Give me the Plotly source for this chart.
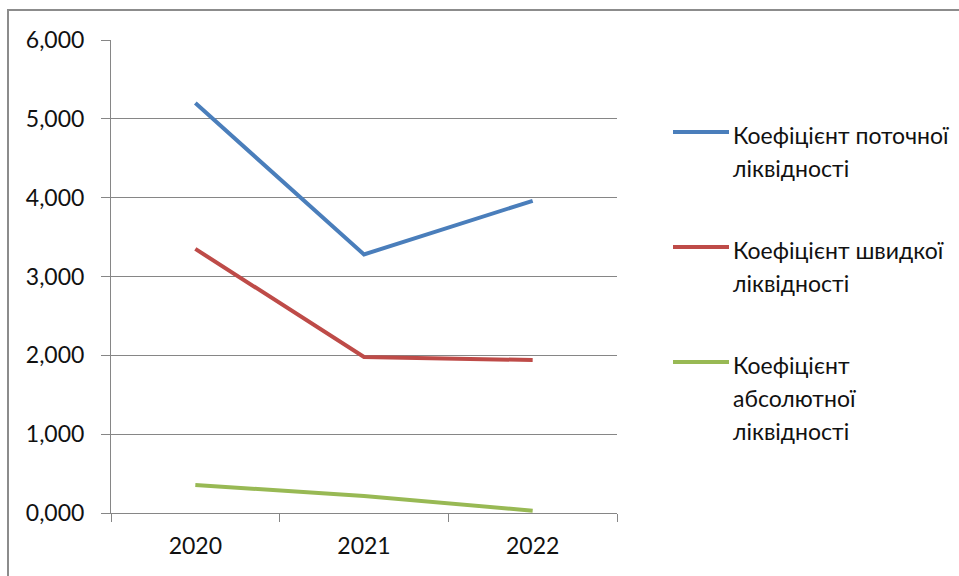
import plotly.graph_objects as go

years = ["2020", "2021", "2022"]
current_ratio = [5.20, 3.28, 3.96]
quick_ratio = [3.35, 1.98, 1.94]
absolute_ratio = [0.355, 0.215, 0.03]

series_names = [
    ["Коефіцієнт поточної", "ліквідності"],
    ["Коефіцієнт швидкої", "ліквідності"],
    ["Коефіцієнт", "абсолютної", "ліквідності"],
]
series_values = [current_ratio, quick_ratio, absolute_ratio]
series_colors = ["#4A7EBB", "#BE4B48", "#98B954"]

W, H = 959, 576
L, R, T, B = 111, 617, 40, 513   # plot area in pixels


def px_x(px):
    return (px - L) / (R - L)


def px_y(py):
    return (B - py) / (B - T)


FONT = "Lato, Carlito, Calibri, sans-serif"
FS = 23

fig = go.Figure()
for name, vals, col in zip(series_names, series_values, series_colors):
    fig.add_trace(go.Scatter(
        x=years, y=vals, mode="lines", name=" ".join(name),
        line=dict(color=col, width=4), showlegend=False,
        hoverinfo="x+y",
    ))

shapes = []
annotations = []

# outer chart border (only top and left edges fall inside the page)
shapes.append(dict(type="rect", xref="paper", yref="paper",
                   x0=px_x(8), x1=px_x(8) + 3, y0=-2, y1=px_y(10),
                   line=dict(color="#8C8C8C", width=2), fillcolor="rgba(0,0,0,0)"))

# legend drawn beside the plot
entry_top = [132, 247, 362]
line_gap = 33
for names, col, y0 in zip(series_names, series_colors, entry_top):
    shapes.append(dict(type="line", xref="paper", yref="paper",
                       x0=px_x(673), x1=px_x(729), y0=px_y(y0), y1=px_y(y0),
                       line=dict(color=col, width=4)))
    for i, part in enumerate(names):
        annotations.append(dict(
            xref="paper", yref="paper", x=px_x(731), y=px_y(y0 + 3 + i * line_gap),
            text=part, showarrow=False, xanchor="left", yanchor="middle",
            font=dict(family=FONT, size=FS, color="#111111"),
        ))

fig.update_layout(
    width=W, height=H,
    margin=dict(l=L, r=W - R, t=T, b=H - B, pad=0),
    paper_bgcolor="white", plot_bgcolor="white",
    separators=", ",
    font=dict(family=FONT, size=FS, color="#111111"),
    shapes=shapes,
    annotations=annotations,
    xaxis=dict(
        type="category", range=[-0.5, 2.5],
        tickson="boundaries", ticks="outside", ticklen=8,
        tickcolor="#868686", showline=True, linecolor="#868686", linewidth=1,
        showgrid=False, ticklabelstandoff=12,
        tickfont=dict(family=FONT, size=FS, color="#111111"),
    ),
    yaxis=dict(
        range=[0, 6], dtick=1, tick0=0, tickformat=".3f",
        ticks="outside", ticklen=9, tickcolor="#868686",
        showline=True, linecolor="#868686", linewidth=1,
        showgrid=True, gridcolor="#868686", gridwidth=1,
        zeroline=False, ticklabelstandoff=12,
        tickfont=dict(family=FONT, size=FS, color="#111111"),
    ),
)

fig.write_html("out.html")
